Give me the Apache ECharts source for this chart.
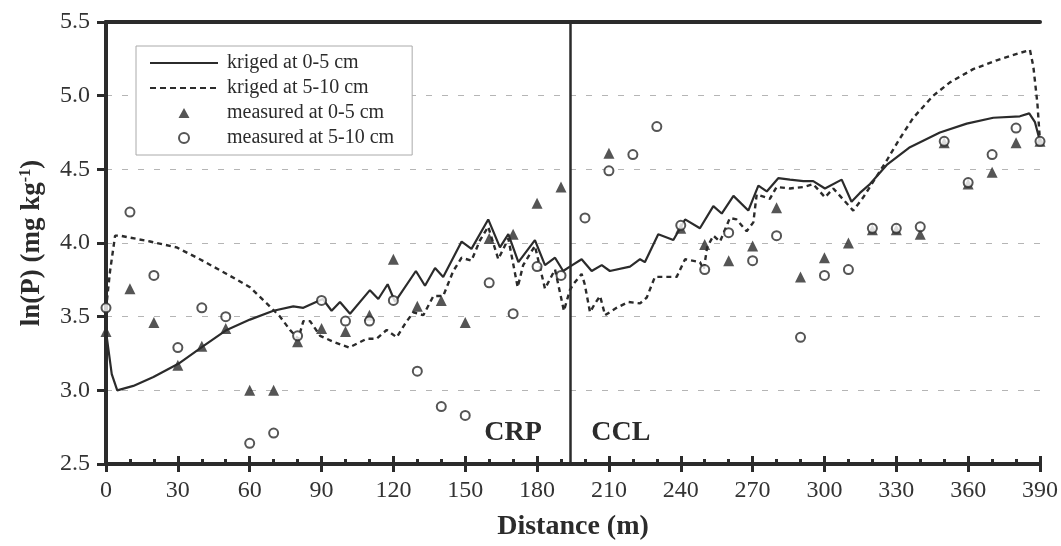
<!DOCTYPE html>
<html>
<head>
<meta charset="utf-8">
<script src="https://cdn.jsdelivr.net/npm/echarts@6/dist/echarts.min.js"></script>
<style>
  html, body { margin: 0; padding: 0; background: #fff; }
  #chart { width: 1061px; height: 546px; }
</style>
</head>
<body>
<div id="chart"></div>
<script>
// sampling positions along the transect (m)
const distances = [0, 10, 20, 30, 40, 50, 60, 70, 80, 90, 100, 110, 120, 130, 140, 150, 160, 170, 180, 190,
  200, 210, 220, 230, 240, 250, 260, 270, 280, 290, 300, 310, 320, 330, 340, 350, 360, 370, 380, 390];

const measured05 = [3.40, 3.69, 3.46, 3.17, 3.30, 3.42, 3.00, 3.00, 3.33, 3.42, 3.40, 3.51, 3.89, 3.57, 3.61, 3.46, 4.03, 4.06, 4.27, 4.38,
  null, 4.61, null, null, 4.10, 3.99, 3.88, 3.98, 4.24, 3.77, 3.90, 4.00, 4.09, 4.09, 4.06, 4.68, 4.40, 4.48, 4.68, 4.69];

const measured510 = [3.56, 4.21, 3.78, 3.29, 3.56, 3.50, 2.64, 2.71, 3.37, 3.61, 3.47, 3.47, 3.61, 3.13, 2.89, 2.83, 3.73, 3.52, 3.84, 3.78,
  4.17, 4.49, 4.60, 4.79, 4.12, 3.82, 4.07, 3.88, 4.05, 3.36, 3.78, 3.82, 4.10, 4.10, 4.11, 4.69, 4.41, 4.60, 4.78, 4.69];

// kriged 0-5 cm
const kriged05Dist = [0, 2.4, 4.7, 11.4, 19.8, 30.2, 40.6, 50.4, 60.1, 69.9, 78.2, 82.4, 90.5, 94.2, 97.7, 101.9, 110.2, 113.7, 117.6, 120.7,
  129.4, 133.2, 137.4, 140.8, 148.5, 152.6, 159.6, 164.5, 168, 172.2, 179.1, 183.3, 187.5, 190.9, 193.7, 198.6, 202.8, 207, 210.4, 218.8,
  223, 225, 230.6, 236.9, 241.8, 248, 253.6, 257.1, 262, 268.2, 272.4, 275.9, 280.7, 285.6, 291.2, 295.3, 300.2, 307.2, 311.3, 314.8,
  319, 326, 335.7, 348.2, 359.4, 370.5, 381.6, 385.5, 387.9, 390];
const kriged05 = [3.40, 3.11, 3.00, 3.03, 3.09, 3.18, 3.30, 3.41, 3.48, 3.54, 3.57, 3.56, 3.62, 3.54, 3.60, 3.52, 3.68, 3.62, 3.72, 3.60,
  3.81, 3.71, 3.83, 3.77, 4.01, 3.96, 4.16, 3.97, 4.06, 3.87, 4.02, 3.85, 3.90, 3.81, 3.84, 3.89, 3.81, 3.85, 3.81, 3.84,
  3.89, 3.87, 4.06, 4.02, 4.16, 4.10, 4.25, 4.20, 4.32, 4.22, 4.39, 4.35, 4.44, 4.43, 4.42, 4.42, 4.37, 4.43, 4.28, 4.34,
  4.40, 4.53, 4.65, 4.75, 4.81, 4.85, 4.86, 4.88, 4.82, 4.69];

// kriged 5-10 cm
const kriged510Dist = [0, 1.7, 3.8, 5.8, 18.4, 29.5, 39.2, 50.4, 60.1, 67.1, 72.7, 76.8, 80.3, 82.4, 85.2, 89.4, 94.9, 101.5, 108.8, 113,
  117.2, 121.4, 124.8, 128.3, 132.5, 136.7, 140.8, 145, 148.5, 152.6, 156.2, 159.6, 163.8, 168, 171.9, 174.2, 179.1, 183.3, 187.5, 191.2,
  193.7, 195.1, 198.6, 199.9, 202.1, 204.2, 206.3, 208.4, 213.2, 218.1, 223, 225.8, 229.2, 233.4, 238.3, 241.8, 248, 249.6, 251, 253.6,
  256.4, 260.5, 263.3, 267.5, 270.3, 271.7, 277.2, 280, 285.6, 291.2, 295.3, 300.2, 303.7, 312, 316.2, 326, 331.5, 337.1, 345.4, 352.4,
  362.1, 371.9, 381.6, 385.8, 387.2, 388.9, 390];
const kriged510 = [3.55, 3.81, 4.05, 4.05, 4.01, 3.97, 3.89, 3.79, 3.70, 3.59, 3.50, 3.41, 3.35, 3.47, 3.47, 3.37, 3.33, 3.29, 3.35, 3.35,
  3.41, 3.36, 3.45, 3.53, 3.51, 3.64, 3.64, 3.81, 3.90, 3.88, 4.02, 4.11, 3.89, 4.03, 3.70, 3.85, 3.98, 3.69, 3.82, 3.54,
  3.68, 3.72, 3.79, 3.72, 3.53, 3.59, 3.64, 3.51, 3.56, 3.60, 3.59, 3.63, 3.77, 3.77, 3.77, 3.89, 3.87, 3.82, 3.97, 4.05,
  4.01, 4.17, 4.16, 4.08, 4.14, 4.33, 4.30, 4.38, 4.37, 4.38, 4.40, 4.31, 4.37, 4.22, 4.31, 4.56, 4.71, 4.85, 5.00, 5.09,
  5.18, 5.24, 5.29, 5.31, 5.20, 4.95, 4.69];

const boundaryAt = 194;
const zoneLabels = [{ name: 'CRP', x: 170, y: 2.71 }, { name: 'CCL', x: 215, y: 2.71 }];

const ink = '#2b2b2b';
const serif = '"Liberation Serif", "DejaVu Serif", serif';

// legend glyphs drawn in a 68x10 box
const solidIcon = 'path://M0,4H68V6H0Z M0,0L0,0Z M68,10L68,10Z';
const dashedIcon = 'path://M0,4H6V6H0Z M10,4H16V6H10Z M20,4H26V6H20Z M30,4H36V6H30Z M40,4H46V6H40Z M50,4H56V6H50Z M60,4H66V6H60Z M0,0L0,0Z M68,10L68,10Z';
const triangleIcon = 'path://M28.5,10L34,0L39.5,10Z M0,0L0,0Z M68,10L68,10Z';

const pairs = (xs, ys) => xs.map((x, i) => [x, ys[i]]);

const chart = echarts.init(document.getElementById('chart'));
chart.setOption({
  backgroundColor: '#fff',
  animation: false,
  textStyle: { fontFamily: serif },
  grid: { left: 106, right: 21, top: 22, bottom: 78 },
  legend: {
    orient: 'vertical',
    left: 136,
    top: 46,
    padding: [7, 18, 7, 14],
    itemWidth: 68,
    itemHeight: 10,
    itemGap: 5,
    borderColor: '#aaa',
    borderWidth: 1,
    backgroundColor: '#fff',
    textStyle: { fontFamily: serif, fontSize: 20, color: ink, padding: [0, 0, 0, 4] },
    data: [
      { name: 'kriged at 0-5 cm', icon: solidIcon },
      { name: 'kriged at 5-10 cm', icon: dashedIcon },
      { name: 'measured at 0-5 cm', icon: triangleIcon },
      { name: 'measured at 5-10 cm', icon: 'emptyCircle' },
    ],
  },
  xAxis: [
    {
      type: 'value', position: 'bottom', min: 0, max: 390, interval: 30,
      name: 'Distance (m)', nameLocation: 'middle', nameGap: 49,
      nameTextStyle: { fontFamily: serif, fontSize: 28, fontWeight: 'bold', color: ink },
      axisLine: { lineStyle: { color: ink, width: 4 } },
      axisTick: { length: 8, lineStyle: { color: ink, width: 3 } },
      axisLabel: { fontFamily: serif, fontSize: 24, color: '#333', margin: 15 },
      splitLine: { show: false },
    },
    {
      type: 'value', position: 'bottom', min: 0, max: 390, interval: 30,
      axisLine: { show: false },
      axisTick: { inside: true, length: 8, lineStyle: { color: ink, width: 3 } },
      minorTick: { show: true, splitNumber: 3, length: 5, lineStyle: { color: ink, width: 3 } },
      axisLabel: { show: false },
      splitLine: { show: false },
    },
    {
      type: 'value', position: 'top', min: 0, max: 390,
      axisLine: { lineStyle: { color: ink, width: 4 } },
      axisTick: { show: false }, axisLabel: { show: false }, splitLine: { show: false },
    },
  ],
  yAxis: [
    {
      type: 'value', min: 2.5, max: 5.5, interval: 0.5,
      name: 'ln(P) (mg kg{sup|-1})', nameLocation: 'middle', nameGap: 60,
      nameTextStyle: {
        fontFamily: serif, fontSize: 27, fontWeight: 'bold', color: ink,
        rich: { sup: { fontFamily: serif, fontSize: 16, fontWeight: 'bold', color: ink, verticalAlign: 'top', padding: [0, 0, 12, 0] } },
      },
      axisLine: { show: true, lineStyle: { color: ink, width: 4 } },
      axisTick: { show: true, length: 9, lineStyle: { color: ink, width: 3 } },
      axisLabel: { fontFamily: serif, fontSize: 24, color: '#333', margin: 16, formatter: v => v.toFixed(1) },
      splitLine: { show: true, lineStyle: { color: '#b5b5b5', width: 1, type: [6, 10] } },
    },
    {
      type: 'value', position: 'right', min: 2.5, max: 5.5,
      axisLine: { show: true, lineStyle: { color: ink, width: 4 } },
      axisTick: { show: false }, axisLabel: { show: false }, splitLine: { show: false },
    },
  ],
  series: [
    {
      name: 'kriged at 0-5 cm',
      type: 'line',
      data: pairs(kriged05Dist, kriged05),
      symbol: 'none',
      lineStyle: { color: ink, width: 2.2 },
      itemStyle: { color: ink },
      z: 3,
      markLine: {
        silent: true, symbol: 'none', label: { show: false },
        lineStyle: { color: ink, width: 2.5, type: 'solid' },
        data: [{ xAxis: boundaryAt }],
      },
      markPoint: {
        symbol: 'circle', symbolSize: 1, itemStyle: { color: 'transparent' },
        label: { show: true, position: 'inside', formatter: '{b}', fontFamily: serif, fontSize: 28, fontWeight: 'bold', color: ink },
        data: zoneLabels.map(z => ({ name: z.name, coord: [z.x, z.y] })),
      },
    },
    {
      name: 'kriged at 5-10 cm',
      type: 'line',
      data: pairs(kriged510Dist, kriged510),
      symbol: 'none',
      lineStyle: { color: ink, width: 2.4, type: [5, 4] },
      itemStyle: { color: ink },
      z: 3,
    },
    {
      name: 'measured at 0-5 cm',
      type: 'scatter',
      data: pairs(distances, measured05),
      symbol: 'triangle',
      symbolSize: 11,
      itemStyle: { color: ink },
      z: 4,
    },
    {
      name: 'measured at 5-10 cm',
      type: 'scatter',
      data: pairs(distances, measured510),
      symbol: 'emptyCircle',
      symbolSize: 9,
      itemStyle: { color: ink, borderColor: ink, borderWidth: 2.4 },
      z: 5,
    },
  ],
});
</script>
</body>
</html>
